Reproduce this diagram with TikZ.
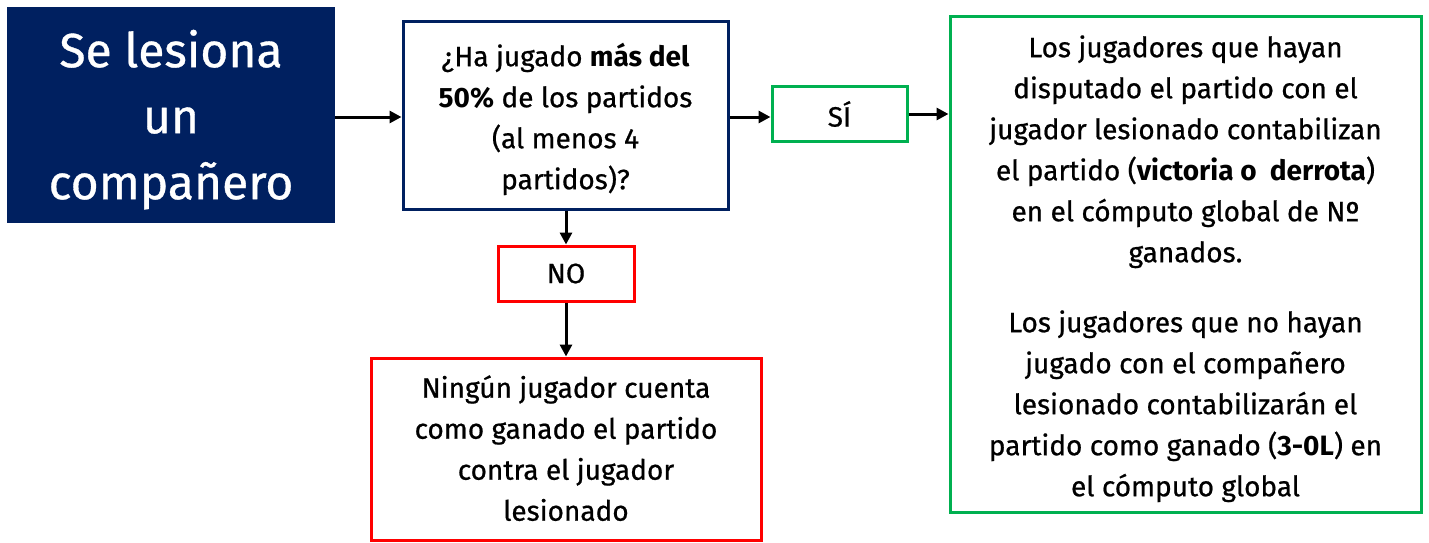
\documentclass[tikz,border=0pt]{standalone}
\usepackage{fontspec}
\setmainfont{Fira Sans}[UprightFeatures={FakeBold=0.7}, BoldFont=* Bold, BoldFeatures={FakeBold=0}]
\usetikzlibrary{arrows.meta}
\definecolor{navy}{HTML}{002060}
\definecolor{okgreen}{HTML}{00B050}
\definecolor{nored}{HTML}{FF0000}
\newcommand{\lines}[2][4pt]{\raisebox{-#1}[\height][\depth]{\begin{tabular}{@{}c@{}}#2\end{tabular}}}
\begin{document}
\begin{tikzpicture}[x=1pt,y=-1pt,
  box/.style={draw, line width=3pt, inner sep=0pt, text=black},
  txt/.style={font=\fontsize{28}{41}\selectfont},
  conn/.style={line width=3pt, -{Triangle[length=12pt,width=12pt]}}]
\useasboundingbox (0,0) rectangle (1429,543);
\node[fill=navy, draw=none, minimum width=328pt, minimum height=216pt, inner sep=0pt, text=white,
  font=\fontsize{48}{66}\selectfont] (nav) at (171,115) {\lines[5pt]{Se lesiona\\un\\compañero}};
\node[box, draw=navy, minimum width=325pt, minimum height=187pt, txt] (q) at (565.5,115.5)
  {\lines{¿Ha jugado \textbf{más del}\\\textbf{50\%} de los partidos\\(al menos 4\\partidos)?}};
\node[box, draw=okgreen, minimum width=135pt, minimum height=55pt, txt] (si) at (839.5,114) {SÍ};
\node[box, draw=okgreen, minimum width=471pt, minimum height=495pt, txt] (res) at (1185.5,264.5)
  {\lines{Los jugadores que hayan\\disputado el partido con el\\jugador lesionado contabilizan\\el partido (\textbf{victoria o\ \ derrota})\\en el cómputo global de Nº\\ganados.\\[29pt]
   Los jugadores que no hayan\\jugado con el compañero\\lesionado contabilizarán el\\partido como ganado (\textbf{3-0L}) en\\el cómputo global}};
\node[box, draw=nored, minimum width=136pt, minimum height=55pt, txt] (no) at (566,273.5) {NO};
\node[box, draw=nored, minimum width=390pt, minimum height=182pt, txt] (nr) at (566,449)
  {\lines[2pt]{Ningún jugador cuenta\\como ganado el partido\\contra el jugador\\lesionado}};
\draw[conn] (nav.east |- 0,117) -- (q.west |- 0,117);
\draw[conn] (q.east |- 0,117) -- (si.west |- 0,117);
\draw[conn] (si.east) -- (res.west |- si.east);
\draw[conn] (q.south -| no.north) -- (no.north);
\draw[conn] (no.south) -- (nr.north);
\end{tikzpicture}
\end{document}
